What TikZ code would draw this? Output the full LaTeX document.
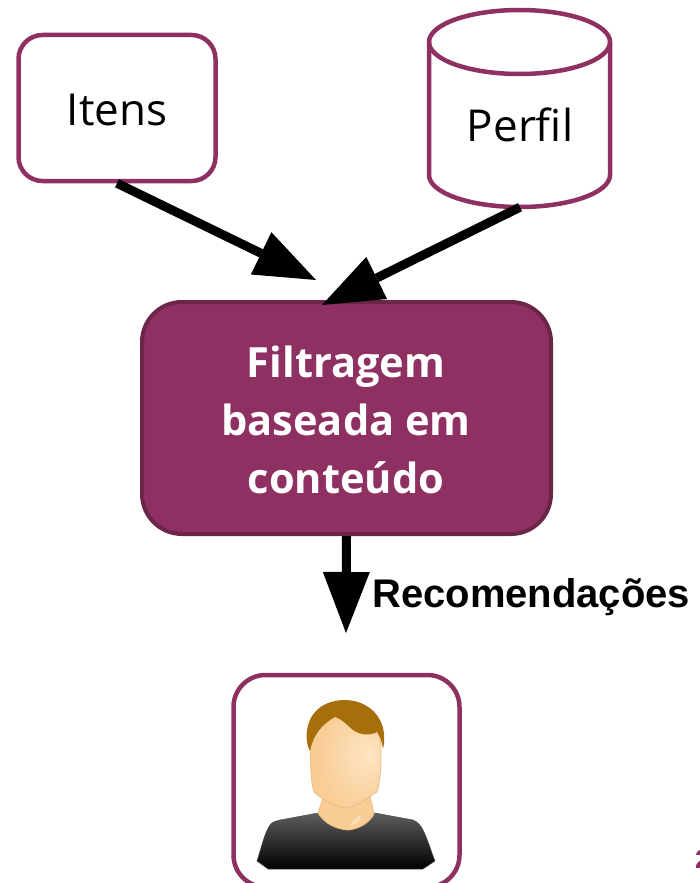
\documentclass[tikz,border=0pt]{standalone}
\usepackage{fontspec}
\setmainfont{Open Sans}
\setsansfont{Liberation Sans}
\usetikzlibrary{arrows.meta,calc}
\definecolor{plum}{HTML}{8E3062}
\definecolor{plumdark}{HTML}{6B2548}
\definecolor{hairc}{HTML}{A66F0C}
\definecolor{skin}{HTML}{F9CD95}
\definecolor{skinlight}{HTML}{FDE5C4}
\definecolor{shirttop}{HTML}{5E5E5E}
\pgfdeclareradialshading{facesh}{\pgfpoint{17bp}{3bp}}{color(0bp)=(skinlight); color(28bp)=(skin); color(50bp)=(skin)}
\tikzset{
  outlinebox/.style={draw=plum,line width=4.5pt,fill=white,rounded corners=24pt,inner sep=0pt},
  labeltext/.style={font=\fontsize{44}{50}\selectfont,text=black},
  conn/.style={line width=9pt,draw=black,-{Triangle[length=61pt,width=47pt,line width=0pt]}},
}
\begin{document}
\begin{tikzpicture}[x=1pt,y=-1pt]
\useasboundingbox (0,0) rectangle (700,883);
\fill[white] (0,0) rectangle (700,883);
% Itens
\node[outlinebox,minimum width=197pt,minimum height=146pt] (itens) at (117,108) {};
\node[labeltext,anchor=base,inner sep=0pt] (itenstxt) at (117,125) {Itens};
% Perfil
\draw[draw=plum,line width=4.5pt,fill=white]
  (429,42) -- (429,175) arc[start angle=180,end angle=360,x radius=90.5,y radius=-32]
  -- (610,42) arc[start angle=0,end angle=180,x radius=90.5,y radius=-32] -- cycle;
\draw[draw=plum,line width=4.5pt] (429,42) arc[start angle=180,end angle=360,x radius=90.5,y radius=-32];
\node[labeltext,minimum width=181pt,minimum height=197pt,inner sep=0pt,text depth=0pt] (perfil) at (520,108.5) {};
\node[labeltext,anchor=base] (perfiltxt) at (520,141) {Perfil};
% Filtragem
\node[draw=plumdark,line width=4pt,fill=plum,rounded corners=40pt,minimum width=409pt,minimum height=232pt,
  inner sep=0pt] (filtro) at (346.5,418) {};
\node[text=white,font=\fontsize{41.6}{58}\selectfont\bfseries,align=center,inner sep=0pt] (filtrotxt) at (346,420)
  {Filtragem\\baseada em\\conteúdo};
% User
\node[outlinebox,rounded corners=32pt,minimum width=226pt,minimum height=212pt] (usuario) at (346.5,781) {};
\shade[top color=shirttop,bottom color=black,shading angle=0,draw=black!70,line width=0.5pt]
  (257,861) .. controls (262,845) and (265,832) .. (270,825) .. controls (272,822) and (276,821) .. (280,820)
  -- (318,813) -- (375,813) -- (413,820) .. controls (418,822) and (421,826) .. (423,830)
  .. controls (428,840) and (431,851) .. (435,861) -- (423,869) -- (268,869) -- cycle;
\fill[skin,draw=skin!75!brown,line width=0.8pt] (323,798) -- (318,813) .. controls (324,823) and (335,829) .. (348,830)
  .. controls (360,829) and (370,822) .. (374,814) -- (370,796) -- cycle;
\fill[white,opacity=.4] (350,826) .. controls (353,820) and (358,816) .. (361,815) .. controls (361,820) and (355,825) .. (350,826) -- cycle;
\shade[shading=facesh,draw=skin!80!brown,line width=0.8pt]
  (310,745) .. controls (310,725) and (330,712) .. (346,712) .. controls (365,712) and (382,728) .. (381,750)
  .. controls (381,770) and (380,782) .. (377,792) .. controls (365,799) and (355,808) .. (346,808)
  .. controls (335,807) and (322,799) .. (314,792) .. controls (310,780) and (311,760) .. (310,745) -- cycle;
\fill[hairc] (310,751) .. controls (304,740) and (306,722) .. (315,712) .. controls (322,704) and (333,700) .. (345,700)
  .. controls (360,700) and (374,708) .. (380,720) .. controls (385,730) and (385,740) .. (383,749)
  .. controls (382,742) and (380,736) .. (377,732) .. controls (370,736) and (360,735) .. (353,730)
  .. controls (347,725) and (342,719) .. (335,717)
  .. controls (322,724) and (313,735) .. (310,751) -- cycle;
% Connectors
\coordinate (tipa) at (316,280);
\coordinate (tipb) at (322,305);
\coordinate (tipc) at (346,633);
\draw[conn] (itens.south) -- (tipa);
\draw[conn] (perfil.south) -- (tipb);
\draw[conn] (filtro.south) -- (tipc);
\node[anchor=west,inner sep=0pt,font=\sffamily\bfseries\fontsize{40}{44}\selectfont] (reco) at (372,597) {Recomendações};
\node[anchor=base west,inner sep=0pt,text=plum,font=\sffamily\bfseries\fontsize{26}{30}\selectfont] (pagina) at (695,868) {2};
\end{tikzpicture}
\end{document}
